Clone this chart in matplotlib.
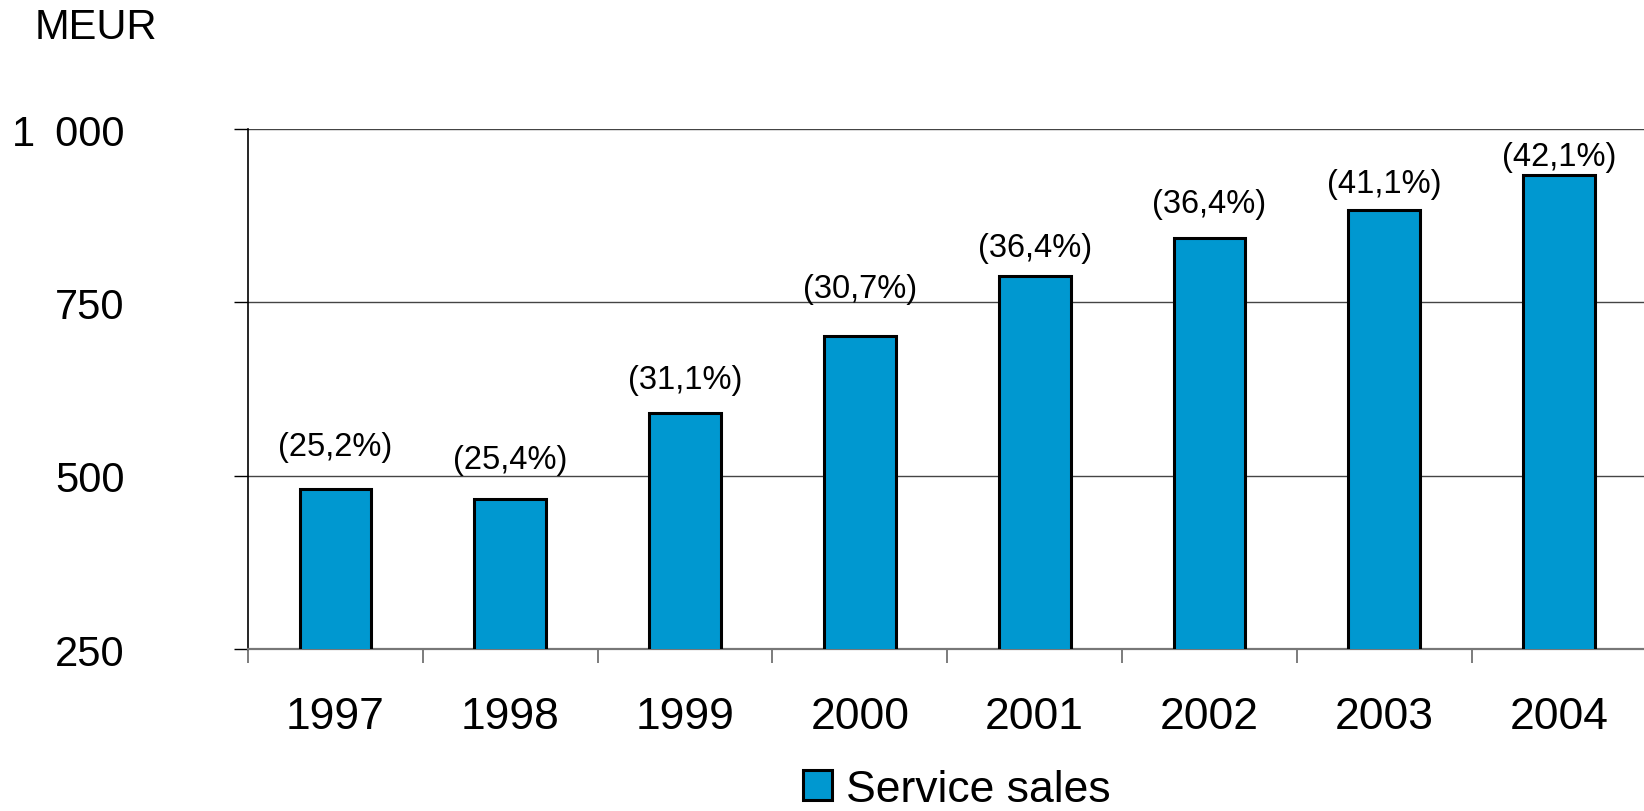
import matplotlib.pyplot as plt
from matplotlib.patches import Patch
from matplotlib.ticker import FuncFormatter

plt.rcParams['font.family'] = ['Liberation Sans', 'DejaVu Sans']

years = ['1997', '1998', '1999', '2000', '2001', '2002', '2003', '2004']
sales = [481, 466, 591, 702, 788, 843, 883, 934]
shares = ['(25,2%)', '(25,4%)', '(31,1%)', '(30,7%)', '(36,4%)', '(36,4%)', '(41,1%)', '(42,1%)']
# label heights above bars differ in the original (points)
label_gap = [30.7, 28.8, 23.8, 33.6, 20.4, 24.5, 18.9, 13.3]
bar_color = '#0098D0'

fig = plt.figure(figsize=(16.44, 8.12), dpi=100)
ax = fig.add_axes([0.1509, 0.1995, 0.8506, 0.6404])

x = range(len(years))
ax.bar(x, sales, width=0.41, color=bar_color, edgecolor='black', linewidth=2.2, zorder=3)

for xi, v, s, g in zip(x, sales, shares, label_gap):
    ax.annotate(s, (xi, v), xytext=(0, g), textcoords='offset points',
                ha='center', va='center', fontsize=23.5)

ax.set_xlim(-0.5, 7.5)
ax.set_ylim(250, 1000)
ax.set_yticks([250, 500, 750, 1000])
ax.yaxis.set_major_formatter(FuncFormatter(lambda v, p: f'{int(v):,}'.replace(',', '\u2009 ')))
ax.grid(axis='y', color='#444444', linewidth=1.0, zorder=0)

ax.set_xticks(list(x))
ax.set_xticklabels(years)
ax.set_xticks([i + 0.5 for i in range(-1, 7)], minor=True)
ax.tick_params(axis='x', which='major', length=0, pad=34, labelsize=32)
ax.tick_params(axis='x', which='minor', length=10, width=1.2, color='#666666', direction='out')
ax.tick_params(axis='y', length=10, width=1.0, pad=79, labelsize=30, direction='out')

for side in ['top', 'right']:
    ax.spines[side].set_visible(False)
ax.spines['left'].set_linewidth(1.2)
ax.spines['bottom'].set_color('#777777')
ax.spines['bottom'].set_linewidth(1.6)

fig.text(0.021, 0.966, 'MEUR', fontsize=30, va='center', ha='left')

handle = Patch(facecolor=bar_color, edgecolor='black', linewidth=2.2)
fig.legend([handle], ['Service sales'], loc='center', bbox_to_anchor=(0.582, 0.027),
           frameon=False, fontsize=32, handlelength=0.66, handleheight=0.66,
           handletextpad=0.3, borderpad=0)

fig.savefig('out.png', dpi=100)
